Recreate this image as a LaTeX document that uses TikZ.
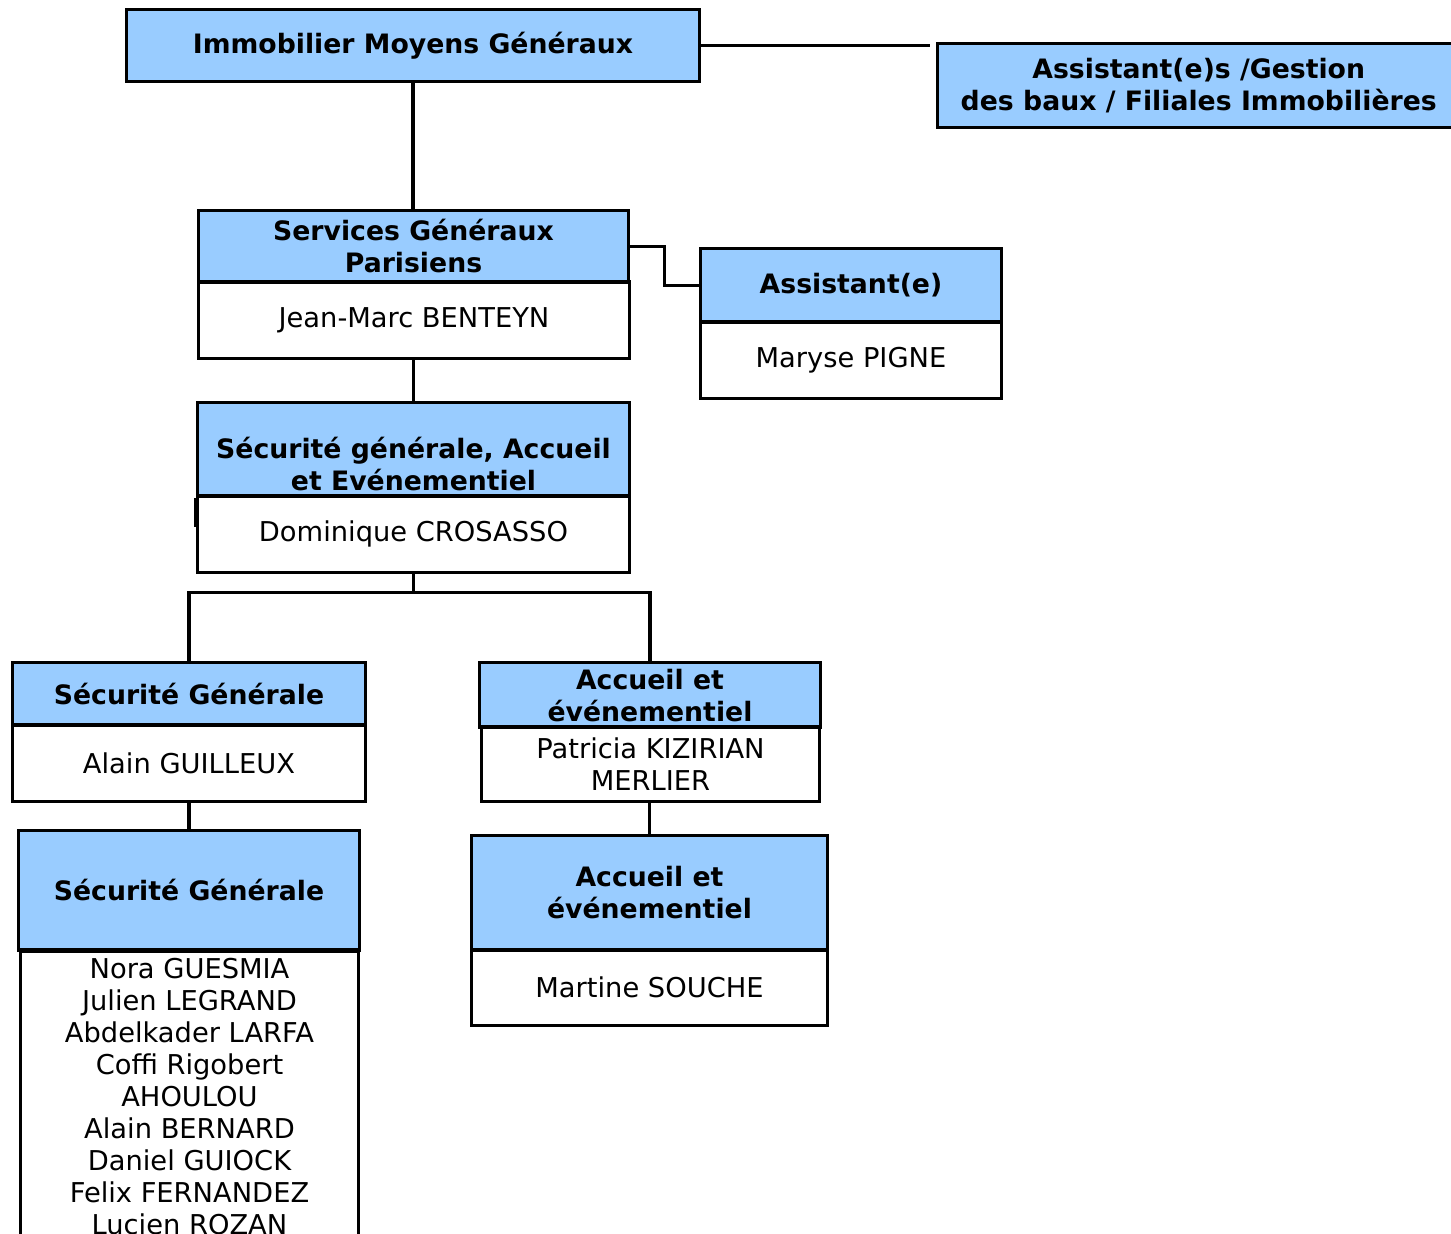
\documentclass[tikz,border=0pt]{standalone}
\usepackage{fontspec}
\setmainfont{DejaVu Sans}
\definecolor{hdrblue}{HTML}{99CCFF}
\begin{document}
\begin{tikzpicture}[x=1pt,y=-1pt,
  box/.style={draw=black, line width=3.4pt, inner sep=0pt, align=center, font=\fontsize{27.3}{32}\selectfont},
  hdr/.style={box, fill=hdrblue, font=\fontsize{26.7}{32}\selectfont\bfseries},
  body/.style={box, fill=white},
  txt/.style={inner sep=0pt, align=center, font=\fontsize{27.3}{32}\selectfont},
  wire/.style={draw=black, line width=3.4pt}]
\useasboundingbox[fill=white] (0,0) rectangle (1451,1234);

% top level
\node[hdr, minimum width=573, minimum height=72] (imm) at (413,45.5) {Immobilier Moyens Généraux};
\node[hdr, minimum width=522.5, minimum height=84] (asg) at (1198.75,85.5) {Assistant(e)s /Gestion\\des baux / Filiales Immobilières};
\coordinate (immend) at (930,45.5);

% Services Generaux Parisiens
\node[body, minimum width=431, minimum height=76.5] (sgpb) at (414,320.25) {Jean-Marc BENTEYN};
\node[hdr, minimum width=430, minimum height=71.5] (sgph) at (413.5,246.25) {Services Généraux\\Parisiens};

% Assistant(e)
\node[body, minimum width=301, minimum height=76.5] (astb) at (851,360.25) {Maryse PIGNE};
\node[hdr, minimum width=301, minimum height=73.5] (asth) at (851,285.25) {Assistant(e)};

% Securite generale, Accueil et Evenementiel
\node[body, minimum width=432, minimum height=76.5] (sgab) at (413.5,534.25) {Dominique CROSASSO};
\node[hdr, minimum width=432, minimum height=93.5] (sgah) at (413.5,449.25) {};
\node[txt, font=\fontsize{26.7}{32}\selectfont\bfseries, anchor=north] (sgat) at (413.5,437) {Sécurité générale, Accueil\\et Evénementiel};

% Securite Generale 1
\node[body, minimum width=353, minimum height=76.5] (sg1b) at (189,763.25) {Alain GUILLEUX};
\node[hdr, minimum width=353, minimum height=62.5] (sg1h) at (189,693.75) {Sécurité Générale};

% Accueil 1
\node[body, minimum width=338, minimum height=74.5] (ae1b) at (650.5,764.25) {Patricia KIZIRIAN\\MERLIER};
\node[hdr, minimum width=341, minimum height=64.5] (ae1h) at (650,694.75) {};
\node[txt, font=\fontsize{26.7}{32}\selectfont\bfseries, anchor=north] (ae1t) at (650,669) {Accueil et\\événementiel};

% Securite Generale 2
\node[body, minimum width=338, minimum height=330, anchor=north] (sg2b) at (189.5,950) {};
\node[hdr, minimum width=341, minimum height=119.5] (sg2h) at (189,890.25) {Sécurité Générale};
\node[txt, anchor=north] (sg2t) at (189.5,958.5) {Nora GUESMIA\\Julien LEGRAND\\Abdelkader LARFA\\Coffi Rigobert\\AHOULOU\\Alain BERNARD\\Daniel GUIOCK\\Felix FERNANDEZ\\Lucien ROZAN};

% Accueil 2
\node[body, minimum width=356, minimum height=75.5] (ae2b) at (649.5,987.75) {Martine SOUCHE};
\node[hdr, minimum width=356, minimum height=114.5] (ae2h) at (649.5,892.75) {Accueil et\\événementiel};

% connectors
\draw[wire] (imm.east) -- (immend);
\draw[wire] (imm.south) -- (imm.south |- sgph.north);
\draw[wire] (sgph.east) -- ++(34,0) |- (asth.west);
\draw[wire] (sgpb.south -| sgah.north) -- (sgah.north);
\draw[wire] (sgab.south) -- ++(0,18) coordinate (split);
\draw[wire] (sg1h.north) |- (split) -| (ae1h.north);
\draw[wire] (sg1b.south) -- (sg2h.north);
\draw[wire] (ae1b.south -| ae2h.north) -- (ae2h.north);
\draw[wire] (sgah.south west) -- ++(0,29);
\end{tikzpicture}
\end{document}
